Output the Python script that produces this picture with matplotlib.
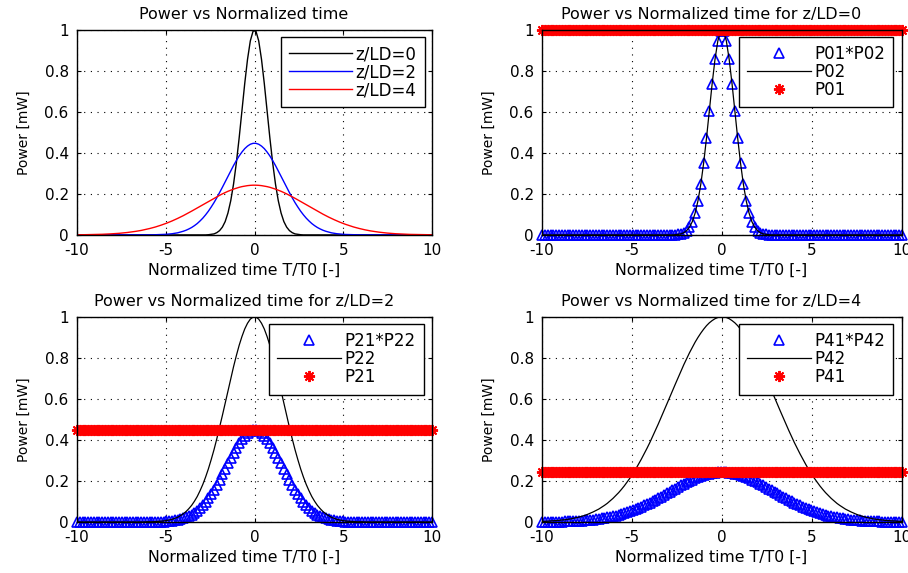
import matplotlib
matplotlib.use("Agg")
import matplotlib.pyplot as plt
import numpy as np
from matplotlib.ticker import FormatStrFormatter

# normalized time axis T/T0 (128 samples)
t = np.linspace(-10, 10, 128)

# peak levels
p01 = 1.0
p21 = 0.447
p41 = 0.2425

# pulse shapes (peak normalized to 1)
p02 = [0.0] * 47 + [
    0.001, 0.003, 0.005, 0.011, 0.021, 0.038, 0.065, 0.107, 0.167, 0.248,
    0.351, 0.472, 0.605, 0.738, 0.856, 0.946, 0.994,
    0.994, 0.946, 0.856, 0.738, 0.605, 0.472, 0.351, 0.248, 0.167, 0.107,
    0.065, 0.038, 0.021, 0.011, 0.005, 0.003, 0.001,
] + [0.0] * 47

p22 = [0.0] * 25 + [
    0.001, 0.001, 0.001, 0.002, 0.003, 0.004, 0.005, 0.007, 0.010, 0.013,
    0.018, 0.023, 0.031, 0.040, 0.051, 0.065, 0.081, 0.101, 0.124, 0.152,
    0.183, 0.219, 0.259, 0.304, 0.352, 0.405, 0.461, 0.519, 0.579, 0.639,
    0.699, 0.757, 0.811, 0.861, 0.904, 0.941, 0.969, 0.989, 0.999,
    0.999, 0.989, 0.969, 0.941, 0.904, 0.861, 0.811, 0.757, 0.699, 0.639,
    0.579, 0.519, 0.461, 0.405, 0.352, 0.304, 0.259, 0.219, 0.183, 0.152,
    0.124, 0.101, 0.081, 0.065, 0.051, 0.040, 0.031, 0.023, 0.018, 0.013,
    0.010, 0.007, 0.005, 0.004, 0.003, 0.002, 0.001, 0.001, 0.001,
] + [0.0] * 25

p42 = [
    0.003, 0.003, 0.004, 0.005, 0.006, 0.007, 0.008, 0.010, 0.011, 0.013,
    0.015, 0.018, 0.021, 0.024, 0.028, 0.032, 0.037, 0.043, 0.049, 0.056,
    0.063, 0.072, 0.081, 0.091, 0.103, 0.115, 0.129, 0.143, 0.159, 0.176,
    0.195, 0.214, 0.235, 0.257, 0.281, 0.306, 0.332, 0.359, 0.387, 0.417,
    0.447, 0.478, 0.510, 0.542, 0.574, 0.607, 0.640, 0.672, 0.704, 0.736,
    0.767, 0.796, 0.825, 0.851, 0.877, 0.900, 0.921, 0.940, 0.957, 0.971,
    0.982, 0.991, 0.997, 1.000,
    1.000, 0.997, 0.991, 0.982, 0.971, 0.957, 0.940, 0.921, 0.900, 0.877,
    0.851, 0.825, 0.796, 0.767, 0.736, 0.704, 0.672, 0.640, 0.607, 0.574,
    0.542, 0.510, 0.478, 0.447, 0.417, 0.387, 0.359, 0.332, 0.306, 0.281,
    0.257, 0.235, 0.214, 0.195, 0.176, 0.159, 0.143, 0.129, 0.115, 0.103,
    0.091, 0.081, 0.072, 0.063, 0.056, 0.049, 0.043, 0.037, 0.032, 0.028,
    0.024, 0.021, 0.018, 0.015, 0.013, 0.011, 0.010, 0.008, 0.007, 0.006,
    0.005, 0.004, 0.003, 0.003,
]

p02 = np.array(p02)
p22 = np.array(p22)
p42 = np.array(p42)

plt.rcParams['font.family'] = 'DejaVu Sans'
plt.rcParams['axes.unicode_minus'] = False
ASTERISK = (8, 2, 0)


def style_axes(ax, title):
    ax.set_xlim(-10, 10)
    ax.set_ylim(0, 1)
    ax.set_xticks([-10, -5, 0, 5, 10])
    ax.set_yticks([0, 0.2, 0.4, 0.6, 0.8, 1])
    ax.yaxis.set_major_formatter(FormatStrFormatter('%g'))
    ax.grid(True, color='k', linestyle=(0, (1, 5)), linewidth=0.8)
    ax.tick_params(direction='in', top=True, right=True, length=3,
                   labelsize=11, pad=6)
    for s in ax.spines.values():
        s.set_linewidth(1.0)
    # MATLAB puts title and xlabel a little left of centre
    ax.set_title(title, fontsize=11.5, pad=8, x=0.47)
    ax.set_xlabel("Normalized time T/T0 [-]", fontsize=11.3, labelpad=3)
    ax.xaxis.label.set_x(0.47)
    ax.set_ylabel("Power [mW]", fontsize=10, labelpad=10)


def add_legend(ax, anchor):
    leg = ax.legend(loc='upper right', bbox_to_anchor=anchor, borderaxespad=0,
                    fontsize=12, numpoints=1, handlelength=3.8,
                    handletextpad=0.2, labelspacing=0.0, borderpad=0.5,
                    fancybox=False, framealpha=1, edgecolor='k')
    leg.get_frame().set_linewidth(1.0)


fig = plt.figure(figsize=(9.08, 5.73), dpi=100)
ax1 = fig.add_axes([0.0848, 0.590, 0.391, 0.358])
ax2 = fig.add_axes([0.597, 0.590, 0.3965, 0.358])
ax3 = fig.add_axes([0.0848, 0.089, 0.391, 0.358])
ax4 = fig.add_axes([0.597, 0.089, 0.3965, 0.358])

# panel 1: all three propagation distances
ax1.plot(t, p02, color='k', lw=1.0, label='z/LD=0')
ax1.plot(t, p21 * p22, color='b', lw=1.0, label='z/LD=2')
ax1.plot(t, p41 * p42, color='r', lw=1.0, label='z/LD=4')
style_axes(ax1, "Power vs Normalized time")
add_legend(ax1, (0.98, 0.966))

# panels 2-4: product, pulse shape and level
panels = [
    (ax2, p01, p02, '0', 'P01', 'P02'),
    (ax3, p21, p22, '2', 'P21', 'P22'),
    (ax4, p41, p42, '4', 'P41', 'P42'),
]
for ax, level, shape, z, lev_name, shape_name in panels:
    ax.plot(t, level * shape, ls='none', marker='^', mfc='none', mec='b',
            ms=7.5, mew=1.2, clip_on=False, label=lev_name + '*' + shape_name)
    ax.plot(t, shape, color='k', lw=0.9, label=shape_name)
    ax.plot(t, np.full(t.shape, level), ls='none', marker=ASTERISK,
            mec='r', mfc='r', ms=8, mew=1.4, clip_on=False, label=lev_name)
    style_axes(ax, "Power vs Normalized time for z/LD=" + z)

add_legend(ax2, (0.975, 0.966))
add_legend(ax3, (0.976, 0.966))
add_legend(ax4, (0.975, 0.966))

fig.savefig("out.png", dpi=100)
